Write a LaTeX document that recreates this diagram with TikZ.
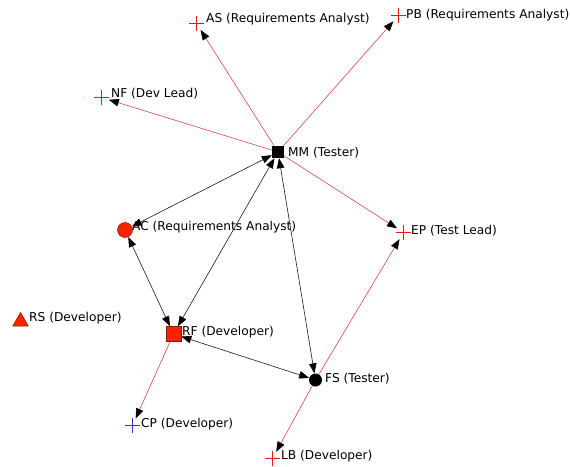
\documentclass[tikz,border=0pt]{standalone}
\usepackage{fontspec}
\setmainfont{DejaVu Sans}
\usetikzlibrary{arrows.meta,shapes.geometric}

\definecolor{markred}{RGB}{245,20,20}
\definecolor{markblue}{RGB}{50,50,225}
\definecolor{linkred}{RGB}{215,70,70}
\definecolor{shapered}{RGB}{250,35,0}
\definecolor{shapeedge}{RGB}{140,20,10}
\definecolor{linkdark}{RGB}{25,25,25}

\tikzset{
  tip/.tip={Triangle[length=10pt,width=7.5pt,color=black]},
  crossmark/.style={circle, minimum size=15pt, inner sep=0pt},
  plusline/.style={line width=1pt},
  redsquare/.style={rectangle, draw=shapeedge, fill=shapered, line width=0.6pt,
    minimum size=15pt, inner sep=0pt},
  blacksquare/.style={rectangle, fill=black, minimum size=12pt, inner sep=0pt},
  redcircle/.style={circle, draw=shapeedge, fill=shapered, line width=0.5pt,
    minimum size=15pt, inner sep=0pt},
  blackcircle/.style={circle, fill=black, minimum size=13pt, inner sep=0pt},
  redtriangle/.style={regular polygon, regular polygon sides=3, draw=shapeedge,
    fill=shapered, line width=0.5pt, minimum size=18pt, inner sep=0pt},
  lab/.style={anchor=west, inner sep=0pt, text=black,
    font=\fontsize{12.2}{14}\selectfont},
  mutual/.style={linkdark, line width=0.6pt, tip-tip},
  reports/.style={linkred, line width=0.6pt, -tip},
}

\begin{document}
\begin{tikzpicture}[x=1pt, y=-1pt]
  \useasboundingbox (0,0) rectangle (570,466);

  % people
  \node[crossmark]   (AS) at (196.5,23.5) {};
  \node[crossmark]   (PB) at (398.5,15.5) {};
  \node[crossmark]   (NF) at (101.5,97.5) {};
  \node[blacksquare] (MM) at (278,152)   {};
  \node[redcircle]   (AC) at (125,230)   {};
  \node[crossmark]   (EP) at (403.5,232.5) {};
  \node[redtriangle] (RS) at (20.5,321.5) {};
  \node[redsquare]   (RF) at (173.5,334) {};
  \node[blackcircle] (FS) at (315.5,380) {};
  \node[crossmark]   (CP) at (132.5,425.5) {};
  \node[crossmark]   (LB) at (272.5,458.5) {};

  % names and roles
  \node[lab] (ASl) at (206,19.5) {AS (Requirements Analyst)};
  \node[lab] (PBl) at (406,15)   {PB (Requirements Analyst)};
  \node[lab] (NFl) at (111,94)   {NF (Dev Lead)};
  \node[lab] (MMl) at (288,152.5) {MM (Tester)};
  \node[lab] (ACl) at (132,227)  {AC (Requirements Analyst)};
  \node[lab] (EPl) at (411,231)  {EP (Test Lead)};
  \node[lab] (RSl) at (29,318)   {RS (Developer)};
  \node[lab] (RFl) at (182,332)  {RF (Developer)};
  \node[lab] (FSl) at (325,379)  {FS (Tester)};
  \node[lab] (CPl) at (141,424)  {CP (Developer)};
  \node[lab] (LBl) at (281,456)  {LB (Developer)};

  % one-way links
  \draw[reports] (MM) -- (AS);
  \draw[reports] (MM) -- (PB);
  \draw[reports] (MM) -- (NF);
  \draw[reports] (MM) -- (EP);
  \draw[reports] (RF) -- (CP);
  \draw[reports] (FS) -- (LB);
  \draw[reports] (FS) -- (EP);

  % two-way links
  \draw[mutual] (AC) -- (MM);
  \draw[mutual] (RF) -- (MM);
  \draw[mutual] (FS) -- (MM);
  \draw[mutual] (AC) -- (RF);
  \draw[mutual] (RF) -- (FS);

  % plus marks for the people without a shape
  \draw[plusline, markred] (AS.west) -- (AS.east) (AS.north) -- (AS.south);
  \draw[plusline, markred] (PB.west) -- (PB.east) (PB.north) -- (PB.south);
  \draw[plusline, markred] (NF.west) -- (NF.east) (NF.north) -- (NF.south);
  \draw[plusline, markred] (EP.west) -- (EP.east) (EP.north) -- (EP.south);
  \draw[plusline, markred] (LB.west) -- (LB.east) (LB.north) -- (LB.south);
  \draw[plusline, markblue] (CP.west) -- (CP.east) (CP.north) -- (CP.south);
\end{tikzpicture}
\end{document}
